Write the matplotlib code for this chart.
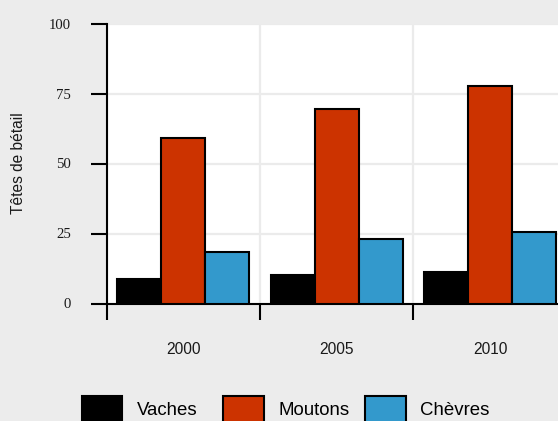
import matplotlib
matplotlib.use('Agg')
import matplotlib.pyplot as plt
import numpy as np

# data
years = ['2000', '2005', '2010']
vaches = [8.7, 10.3, 11.3]
moutons = [59.2, 69.3, 77.6]
chevres = [18.3, 22.9, 25.7]

series = [('Vaches', vaches, '#000000'),
          ('Moutons', moutons, '#CC3300'),
          ('Chèvres', chevres, '#3399CC')]

bg = '#ECECEC'
W, H = 558, 421
fig = plt.figure(figsize=(W / 100, H / 100), dpi=100, facecolor=bg)

# panel runs off the right edge, like the reference
ax = fig.add_axes([106.7 / W, 117.5 / H, (566.6 - 106.7) / W, 280 / H])
ax.set_facecolor('white')

x = np.arange(len(years))
bw = 0.287
for i, (name, vals, col) in enumerate(series):
    ax.bar(x + (i - 1) * bw, vals, width=bw, color=col, edgecolor='black',
           linewidth=1.5, label=name, zorder=3)

ax.set_xlim(-0.5, 2.5)
ax.set_ylim(0, 100)

# major x ticks between the groups, labels sit on minor ticks at group centres
ax.set_xticks(np.arange(-0.5, 3.0, 1.0))
ax.set_xticklabels([])
ax.set_xticks(x, minor=True)
ax.set_xticklabels(years, minor=True, family='Liberation Sans', fontsize=11.2,
                   color='#1A1A1A')
ax.tick_params(axis='x', which='major', length=11.5, width=1.5, direction='out')
ax.tick_params(axis='x', which='minor', length=0, pad=27.5)

ax.set_yticks([0, 25, 50, 75, 100])
ax.set_yticklabels(['0', '25', '50', '75', '100'], family='Liberation Serif',
                   fontsize=10.6, color='#1A1A1A')
ax.tick_params(axis='y', length=11.5, width=1.5, direction='out', pad=14)

ax.grid(True, which='major', color='#EBEBEB', linewidth=1.6)
ax.set_axisbelow(True)

for s in ['top', 'right']:
    ax.spines[s].set_visible(False)
for s in ['left', 'bottom']:
    ax.spines[s].set_linewidth(1.5)
    ax.spines[s].set_color('black')

fig.text(19 / W, 1 - 163 / H, 'Têtes de bétail', rotation=90, ha='center',
         va='center', family='Liberation Sans', fontsize=11.2, color='#1A1A1A')

# ggplot-style legend: equal-width keys, one small legend per entry
handles, labels = ax.get_legend_handles_labels()
for i, (h, lab) in enumerate(zip(handles, labels)):
    leg = fig.legend([h], [lab], loc='lower left',
                     bbox_to_anchor=((81.7 + i * 141.7) / W, -2.3 / H),
                     frameon=False, prop={'family': 'Liberation Sans', 'size': 13.4},
                     handlelength=2.18, handleheight=1.9, handletextpad=0.77,
                     borderpad=0, borderaxespad=0)

fig.savefig('out.png', dpi=100, facecolor=bg)
